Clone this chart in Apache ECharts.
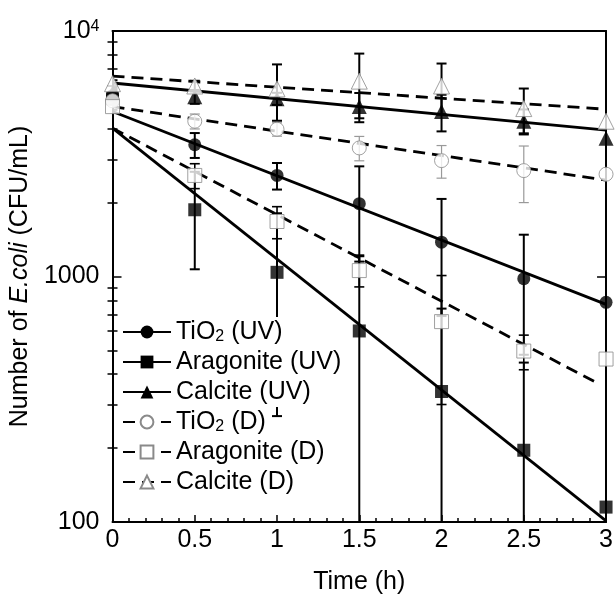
<!DOCTYPE html>
<html>
<head>
<meta charset="utf-8">
<script src="https://cdn.jsdelivr.net/npm/echarts@6/dist/echarts.min.js"></script>
<style>
html, body { margin: 0; padding: 0; background: #fff; }
#chart { width: 616px; height: 600px; }
</style>
</head>
<body>
<div id="chart"></div>
<script>
var FONT = 'Liberation Sans, Arial, sans-serif';

// sampling times (h)
var times = [0, 0.5, 1, 1.5, 2, 2.5, 3];

// mean counts (CFU/mL)
var tio2UV = [5450, 3440, 2580, 1980, 1380, 980, 785];
var aragUV = [5300, 1870, 1040, 600, 340, 196, 115];
var calcUV = [5600, 5400, 5300, 4920, 4700, 4290, 3660];
var tio2D = [5200, 4290, 3980, 3340, 2965, 2700, 2610];
var aragD = [4920, 2580, 1675, 1057, 655, 497, 461];
var calcD = [6100, 5970, 5810, 6250, 5970, 4830, 4290];

// error bars (+/- one s.d.)
var tio2UVErr = [250, 400, 320, 830, 690, 500, 0];
var aragUVErr = [200, 800, 770, 620, 400, 250, 0];
var calcUVErr = [200, 350, 300, 670, 800, 500, 0];
var tio2DErr = [150, 300, 250, 380, 450, 700, 0];
var aragDErr = [150, 300, 250, 150, 354, 80, 0];
var calcDErr = [200, 300, 1500, 1840, 1400, 1000, 0];

// first-order fits: [time, count] at start and end
var tio2UVFit = [[0, 4700], [3, 770]];
var aragUVFit = [[0, 4020], [3, 101]];
var calcUVFit = [[0, 6140], [3, 3950]];
var tio2DFit = [[0, 4920], [3, 2470]];
var aragDFit = [[0, 4020], [2.94, 370]];
var calcDFit = [[0, 6550], [3, 4800]];

// minor ticks of the log axis
var minorTicks = [200, 300, 400, 500, 600, 700, 800, 900, 2000, 3000, 4000, 5000, 6000, 7000, 8000, 9000];

var names = ['TiO2 (UV)', 'Aragonite (UV)', 'Calcite (UV)', 'TiO2 (D)', 'Aragonite (D)', 'Calcite (D)'];

var groups = [
    { name: names[0], vals: tio2UV, err: tio2UVErr, fit: tio2UVFit, symbol: 'circle', size: 13, open: false, dash: 'solid', errColor: '#000', errWidth: 2 },
    { name: names[1], vals: aragUV, err: aragUVErr, fit: aragUVFit, symbol: 'rect', size: 13, open: false, dash: 'solid', errColor: '#000', errWidth: 2 },
    { name: names[2], vals: calcUV, err: calcUVErr, fit: calcUVFit, symbol: 'triangle', size: 15, open: false, dash: 'solid', errColor: '#000', errWidth: 2 },
    { name: names[3], vals: tio2D, err: tio2DErr, fit: tio2DFit, symbol: 'circle', size: 14, open: true, dash: [12, 7], errColor: '#999', errWidth: 1.2 },
    { name: names[4], vals: aragD, err: aragDErr, fit: aragDFit, symbol: 'rect', size: 14, open: true, dash: [12, 7], errColor: '#000', errWidth: 1.6 },
    { name: names[5], vals: calcD, err: calcDErr, fit: calcDFit, symbol: 'triangle', size: 16, open: true, dash: [12, 7], errColor: '#000', errWidth: 2 }
];

function errorBars(color, width) {
    return function (params, api) {
        var x = api.value(0), v = api.value(1), sd = api.value(2);
        if (!sd) return null;
        var low = v - sd;
        var top = api.coord([x, v + sd]);
        var bot = api.coord([x, low > 100 ? low : 100]);
        var style = { stroke: color, lineWidth: width };
        var kids = [
            { type: 'line', shape: { x1: top[0], y1: top[1], x2: bot[0], y2: bot[1] }, style: style },
            { type: 'line', shape: { x1: top[0] - 5, y1: top[1], x2: top[0] + 5, y2: top[1] }, style: style }
        ];
        if (low > 100) {
            kids.push({ type: 'line', shape: { x1: bot[0] - 5, y1: bot[1], x2: bot[0] + 5, y2: bot[1] }, style: style });
        }
        return { type: 'group', children: kids };
    };
}

var series = [];
groups.forEach(function (g) {
    var itemStyle = g.open
        ? { color: '#fff', borderColor: '#8a8a8a', borderWidth: 1 }
        : { color: '#000' };
    // fitted line (also gives the legend icon)
    series.push({
        name: g.name,
        type: 'line',
        data: g.fit,
        showSymbol: false,
        symbol: g.symbol,
        symbolSize: g.size,
        itemStyle: itemStyle,
        lineStyle: { color: '#000', width: 2.8, type: g.dash },
        z: 2,
        silent: true
    });
    series.push({
        type: 'custom',
        data: times.map(function (t, i) { return [t, g.vals[i], g.err[i]]; }),
        encode: { x: 0, y: 1 },
        renderItem: errorBars(g.errColor, g.errWidth),
        clip: true,
        z: 3,
        silent: true
    });
    series.push({
        type: 'scatter',
        data: times.map(function (t, i) { return [t, g.vals[i]]; }),
        symbol: g.symbol,
        symbolSize: g.size,
        itemStyle: itemStyle,
        z: 4,
        silent: true
    });
});

function legendLabel(name) {
    var m = name.match(/^TiO2 (.*)$/);
    if (m) return '{n|TiO}{s|2}{n| ' + m[1] + '}';
    return '{n|' + name + '}';
}

var axisLine = { show: true, onZero: false, lineStyle: { color: '#000', width: 2 } };
var tickLine = { color: '#000', width: 1.5 };

var chart = echarts.init(document.getElementById('chart'));
chart.setOption({
    animation: false,
    backgroundColor: '#fff',
    grid: { left: 111, right: 4, top: 31, bottom: 69, containLabel: false },
    legend: {
        data: names,
        orient: 'vertical',
        left: 122,
        top: 317,
        padding: 0,
        itemGap: 0,
        itemWidth: 48,
        itemHeight: 16,
        selectedMode: false,
        formatter: legendLabel,
        textStyle: {
            color: '#000', fontSize: 25, fontFamily: FONT, lineHeight: 30, backgroundColor: '#fff',
            rich: {
                n: { color: '#000', fontSize: 25, fontFamily: FONT, lineHeight: 30 },
                s: { color: '#000', fontSize: 16, fontFamily: FONT, lineHeight: 30, padding: [9, 0, 0, 0] }
            }
        }
    },
    xAxis: [{
        type: 'value', min: 0, max: 3, interval: 0.5, position: 'bottom',
        axisLine: axisLine,
        axisTick: { inside: true, length: 7, lineStyle: tickLine },
        minorTick: { show: true, splitNumber: 5, length: 4, lineStyle: tickLine },
        splitLine: { show: false },
        axisLabel: { color: '#000', fontSize: 25, fontFamily: FONT, margin: 6 },
        name: 'Time (h)', nameLocation: 'middle', nameGap: 48,
        nameTextStyle: { color: '#000', fontSize: 25, fontFamily: FONT }
    }, {
        type: 'value', min: 0, max: 3, position: 'top',
        axisLine: axisLine, axisTick: { show: false }, axisLabel: { show: false }, splitLine: { show: false }
    }],
    yAxis: [{
        type: 'log', logBase: 10, min: 100, max: 10000, position: 'left',
        axisLine: axisLine,
        axisTick: { inside: true, length: 9, lineStyle: tickLine },
        splitLine: { show: false },
        axisLabel: {
            color: '#000', fontSize: 25, fontFamily: FONT, margin: 13,
            formatter: function (v) { return v === 10000 ? '{a|10}{b|4}' : String(v); },
            rich: {
                a: { color: '#000', fontSize: 25, fontFamily: FONT },
                b: { color: '#000', fontSize: 16, fontFamily: FONT, verticalAlign: 'top' }
            }
        },
        name: 'Number of {i|E.coli} (CFU/mL)', nameLocation: 'middle', nameGap: 67,
        nameTextStyle: {
            color: '#000', fontSize: 25, fontFamily: FONT,
            rich: { i: { color: '#000', fontSize: 25, fontFamily: FONT, fontStyle: 'italic' } }
        }
    }, {
        type: 'log', logBase: 10, min: 100, max: 10000, position: 'left',
        axisLine: { show: false },
        axisTick: { inside: true, length: 5, lineStyle: tickLine, customValues: minorTicks },
        axisLabel: { show: false }, splitLine: { show: false }
    }, {
        type: 'log', logBase: 10, min: 100, max: 10000, position: 'right',
        axisLine: axisLine,
        axisTick: { inside: true, length: 9, lineStyle: tickLine },
        axisLabel: { show: false }, splitLine: { show: false }
    }, {
        type: 'log', logBase: 10, min: 100, max: 10000, position: 'right',
        axisLine: { show: false },
        axisTick: { inside: true, length: 5, lineStyle: tickLine, customValues: minorTicks },
        axisLabel: { show: false }, splitLine: { show: false }
    }],
    series: series
});
</script>
</body>
</html>
